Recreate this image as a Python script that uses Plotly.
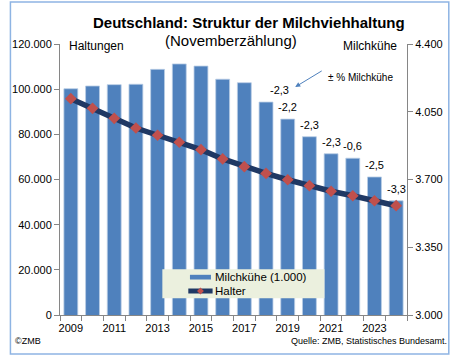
import plotly.graph_objects as go

years = list(range(2009, 2025))
milchkuehe = [4169, 4183, 4190, 4192, 4269, 4297, 4286, 4218, 4200, 4100, 4012, 3921, 3833, 3810, 3713, 3590]
halter = [95800, 91500, 87100, 82800, 79600, 76500, 73200, 69100, 65700, 62700, 59900, 57250, 54800, 52800, 50600, 48400]
pct_years = [2018, 2019, 2020, 2021, 2022, 2023, 2024]
pct_labels = ["-2,3", "-2,2", "-2,3", "-2,3", "-0,6", "-2,5", "-3,3"]

left_ticks = [0, 20000, 40000, 60000, 80000, 100000, 120000]
left_text = ["0", "20.000", "40.000", "60.000", "80.000", "100.000", "120.000"]
right_ticks = [3000, 3350, 3700, 4050, 4400]
right_text = ["3.000", "3.350", "3.700", "4.050", "4.400"]
x_ticks = [2009, 2011, 2013, 2015, 2017, 2019, 2021, 2023]
x_text = [str(v) for v in x_ticks]

bar_name = "Milchkühe (1.000)"
line_name = "Halter"

FONT = "Liberation Sans, Arial, sans-serif"
AX = "#868686"
BAR_C = "#4F81BD"
LINE_C = "#1F3864"
MK_C = "#C0504D"

# plot area in pixels
PL, PR, PT, PB = 53, 410, 44, 315


def px(x):
    return (x - PL) / (PR - PL)


def py(y):
    return (PB - y) / (PB - PT)


fig = go.Figure()
fig.add_trace(go.Bar(
    x=years, y=milchkuehe, name=bar_name, yaxis="y",
    marker=dict(color=BAR_C, line=dict(color="#B9CDE5", width=0.8)),
))
fig.add_trace(go.Scatter(
    x=years, y=halter, name=line_name, yaxis="y2", mode="lines+markers",
    line=dict(color=LINE_C, width=5.5),
    marker=dict(symbol="diamond", color=MK_C, size=9, line=dict(width=0)),
))

ann = []
for yr, lab in zip(pct_years, pct_labels):
    v = milchkuehe[years.index(yr)]
    ann.append(dict(x=yr, y=v, xref="x", yref="y", text=lab, showarrow=False,
                    yanchor="bottom", yshift=4, xshift=(13 if yr == 2018 else 0),
                    font=dict(size=11, color="#000000", family=FONT)))

ann += [
    dict(x=px(247.5), y=py(23), xref="paper", yref="paper", yanchor="middle",
         text="<b>Deutschland: Struktur der Milchviehhaltung</b>", showarrow=False,
         font=dict(size=15, color="#000000", family=FONT)),
    dict(x=px(228.5), y=py(41), xref="paper", yref="paper", yanchor="middle",
         text="(Novemberzählung)", showarrow=False,
         font=dict(size=15, color="#000000", family=FONT)),
    dict(x=px(60), y=py(46), xref="paper", yref="paper",
         xanchor="left", yanchor="middle", text="Haltungen", showarrow=False,
         font=dict(size=12, color="#000000", family=FONT)),
    dict(x=px(402), y=py(46), xref="paper", yref="paper",
         xanchor="right", yanchor="middle", text="Milchkühe", showarrow=False,
         font=dict(size=12, color="#000000", family=FONT)),
    dict(x=px(327), y=py(77), xref="paper", yref="paper",
         xanchor="left", yanchor="middle", text="± % Milchkühe", showarrow=False,
         font=dict(size=10, color="#000000", family=FONT)),
    dict(x=px(295), y=py(87), xref="paper", yref="paper",
         text="", showarrow=True, ax=28, ay=-17, arrowhead=2, arrowsize=1,
         arrowwidth=1, arrowcolor=BAR_C),
    dict(x=px(5), y=py(341), xref="paper", yref="paper",
         xanchor="left", yanchor="middle", text="©ZMB", showarrow=False,
         font=dict(size=9, color="#000000", family=FONT)),
    dict(x=px(453), y=py(341), xref="paper", yref="paper",
         xanchor="right", yanchor="middle", text="Quelle: ZMB, Statistisches Bundesamt.",
         showarrow=False, font=dict(size=9, color="#000000", family=FONT)),
    # manual legend texts
    dict(x=px(210), y=py(277), xref="paper", yref="paper", xanchor="left", yanchor="middle",
         text=bar_name, showarrow=False, font=dict(size=11.5, color="#000000", family=FONT)),
    dict(x=px(210), y=py(291), xref="paper", yref="paper", xanchor="left", yanchor="middle",
         text=line_name, showarrow=False, font=dict(size=11.5, color="#000000", family=FONT)),
]

dx, dy = 3.5 / (PR - PL), 3.5 / (PB - PT)
mx, my = px(197.5), py(291)
shapes = [
    dict(type="rect", xref="paper", yref="paper",
         x0=px(2), x1=px(453), y0=py(354), y1=py(2),
         line=dict(color="#8EB4E3", width=1.5), fillcolor="rgba(0,0,0,0)", layer="below"),
    dict(type="rect", xref="paper", yref="paper", x0=px(158.3), x1=px(325), y0=py(298.3), y1=py(269.3),
         line=dict(width=0), fillcolor="#EBF0DE", layer="above"),
    dict(type="rect", xref="paper", yref="paper", x0=px(186.7), x1=px(208.3), y0=py(279.5), y1=py(274.8),
         line=dict(width=0), fillcolor=BAR_C, layer="above"),
    dict(type="line", xref="paper", yref="paper", x0=px(185), x1=px(210), y0=my, y1=my,
         line=dict(color=LINE_C, width=5), layer="above"),
    dict(type="path", xref="paper", yref="paper",
         path=f"M {mx - dx},{my} L {mx},{my + dy} L {mx + dx},{my} L {mx},{my - dy} Z",
         line=dict(width=0), fillcolor=MK_C, layer="above"),
]

fig.update_layout(
    width=455, height=356,
    margin=dict(l=PL, r=455 - PR, t=PT, b=356 - PB),
    paper_bgcolor="white", plot_bgcolor="white",
    font=dict(family=FONT, size=11, color="#000000"),
    bargap=0.36,
    showlegend=False,
    xaxis=dict(range=[2008.5, 2024.5], tickmode="array", tickvals=x_ticks, ticktext=x_text,
               ticks="outside", ticklen=3, tickcolor="rgba(0,0,0,0)",
               showline=True, linecolor=AX, linewidth=1, showgrid=False, zeroline=False,
               tickfont=dict(size=11),
               minor=dict(tickmode="array", tickvals=[y + 0.5 for y in range(2008, 2025)],
                          ticks="outside", ticklen=5, tickcolor=AX, showgrid=False)),
    yaxis=dict(range=[3000, 4400], side="right", tickmode="array", tickvals=right_ticks,
               ticktext=right_text, ticks="outside", ticklen=5, tickcolor=AX,
               showline=True, linecolor=AX, linewidth=1, showgrid=False, zeroline=False,
               tickfont=dict(size=11)),
    yaxis2=dict(range=[0, 120000], side="left", overlaying="y", tickmode="array",
                tickvals=left_ticks, ticktext=left_text, ticks="outside", ticklen=5,
                tickcolor=AX, showline=True, linecolor=AX, linewidth=1, showgrid=False,
                zeroline=False, tickfont=dict(size=11)),
    annotations=ann,
    shapes=shapes,
)

fig.write_html("out.html", config={"displayModeBar": False},
               post_script="document.body.style.margin='0';document.body.style.padding='0';")
